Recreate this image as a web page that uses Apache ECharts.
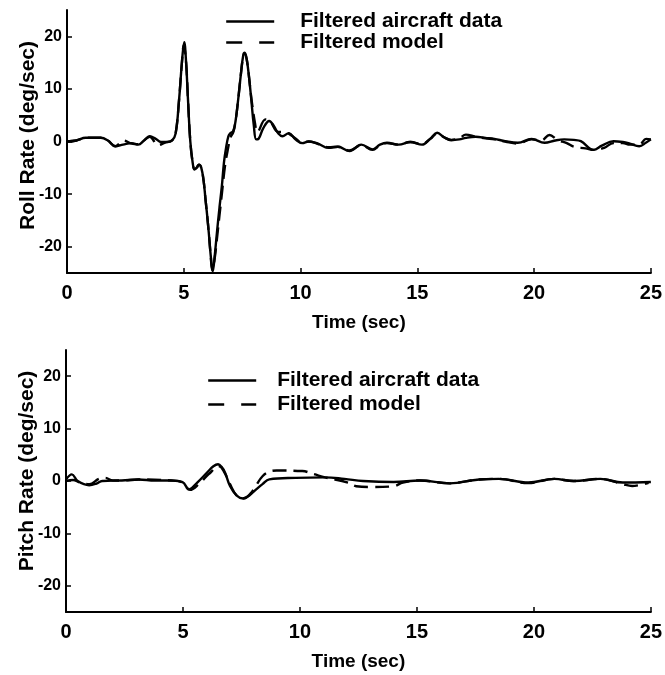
<!DOCTYPE html>
<html>
<head>
<meta charset="utf-8">
<script src="https://cdn.jsdelivr.net/npm/echarts@6/dist/echarts.min.js"></script>
<style>
html,body{margin:0;padding:0;background:#fff;}
#chart{width:665px;height:675px;}
</style>
</head>
<body>
<div id="chart"></div>
<script>
// ---- Data (time in sec, rate in deg/sec) ----
var rollTime = [0,0.4,0.8,1.45,1.75,2.07,2.4,2.77,3.05,3.3,3.54,3.8,4.03,4.3,4.5,4.65,4.8,4.92,5.02,5.1,5.18,5.28,5.38,5.46,5.55,5.65,5.75,5.85,5.93,6.0,6.07,6.15,6.24,6.33,6.42,6.53,6.63,6.72,6.8,6.91,7.0,7.12,7.22,7.33,7.45,7.55,7.61,7.7,7.8,7.89,8.0,8.1,8.2,8.4,8.66,8.85,9.05,9.22,9.5,9.78,10.07,10.35,10.7,11.2,11.6,12.1,12.6,13.08,13.4,13.7,14.2,14.7,15.2,15.55,15.85,16.15,16.45,16.8,17.08,17.5,17.92,18.3,18.76,19.3,19.89,20.45,20.9,21.29,21.7,22.0,22.55,22.9,23.4,23.8,24.1,24.5,24.8,25.0];
var rollAircraft = [0,0.2,0.7,0.7,0.2,-0.9,-0.6,-0.3,-0.6,0.2,1.0,0.5,-0.1,-0.1,0.2,1.5,8,15,18.9,15,8,0,-4,-5.3,-5.0,-4.4,-5.0,-7.5,-11,-14,-17.3,-21.5,-24.7,-21.5,-17.3,-12.5,-8.5,-4,-1.5,1.0,1.6,2.0,4,8,13,16.5,16.9,15.5,12,8,3,0.4,0.5,2.5,3.9,3.0,1.5,1.0,1.6,0.4,-0.3,0.0,-0.3,-1.2,-1.0,-1.8,-0.6,-1.5,-0.6,-0.25,-0.6,-0.1,-0.6,0.5,1.65,0.8,0.25,0.4,0.7,0.9,0.7,0.5,0.06,-0.25,0.5,-0.25,0.2,0.4,0.3,0.06,-1.6,-0.8,0.06,-0.1,-0.4,-0.9,-0.2,0.4];

var rollModelTime = [0,0.4,0.8,1.45,1.75,2.07,2.42,2.77,3.05,3.3,3.54,3.9,4.2,4.5,4.65,4.8,4.92,5.0,5.1,5.18,5.28,5.38,5.46,5.55,5.65,5.75,5.85,5.93,6.0,6.07,6.15,6.22,6.33,6.42,6.53,6.63,6.77,6.9,7.0,7.12,7.22,7.33,7.45,7.55,7.61,7.7,7.8,7.9,8.05,8.15,8.5,8.7,9.05,9.3,9.5,9.8,10.07,10.35,10.7,11.2,11.6,12.1,12.6,13.08,13.4,13.7,14.2,14.7,15.2,15.55,15.85,16.15,16.45,16.8,17.08,17.5,17.92,18.3,18.76,19.3,19.89,20.3,20.66,21.0,21.4,21.7,22.2,22.55,23.0,23.4,23.8,24.1,24.5,24.8,25.0];
var rollModel = [0,0.2,0.7,0.7,0.2,-0.9,0.2,-0.4,-0.5,0.2,0.9,-0.7,-0.2,0.2,1.5,8,15,18.3,15,8,0,-4,-5.3,-5.0,-4.4,-5.0,-7.5,-11,-14,-17.3,-21.5,-24.5,-22,-18.5,-14,-10,-4.5,-1.2,0.8,1.8,4,8,13,16.4,16.7,15.5,12,8,3.5,1.8,4.2,3.8,1.8,1.8,1.5,0.5,-0.2,0.0,-0.4,-1.1,-1.0,-1.7,-0.7,-1.6,-0.7,-0.3,-0.6,-0.1,-0.5,0.5,1.5,0.8,0.3,0.6,1.3,0.9,0.6,0.4,0.0,-0.4,0.4,0.2,1.25,0.3,-0.3,-1.0,-1.3,-1.6,-1.2,-0.3,-0.3,-0.6,-0.6,0.5,0.4];

var pitchTime = [0,0.25,0.5,0.99,1.3,1.55,2.39,3.1,3.8,4.49,4.98,5.26,5.61,6.03,6.3,6.5,6.65,6.8,7.01,7.3,7.57,7.85,8.13,8.4,8.69,9.81,11.07,11.9,12.7,14.0,15.13,16.4,17.66,18.5,19.76,20.87,21.7,22.84,23.8,25.0];
var pitchAircraft = [0.3,1.27,0,-0.8,-0.5,0,0.1,0.3,0.1,0.1,-0.2,-1.6,-0.3,1.6,2.8,3.2,2.7,1.6,-0.95,-2.8,-3.35,-2.7,-1.6,-0.6,0.3,0.6,0.7,0.4,0,-0.2,0.1,-0.45,0.3,0.4,-0.3,0.4,0,0.4,-0.3,-0.2];

var pitchModelTime = [0,0.3,0.6,1.0,1.4,1.68,2.0,2.39,3.1,4.49,4.98,5.3,5.7,6.1,6.55,6.75,7.0,7.3,7.6,7.9,8.1,8.4,8.7,9.0,10.1,10.6,11.07,12.05,12.4,13.03,14.0,14.4,15.13,16.4,17.66,18.5,19.76,20.87,21.7,22.84,23.8,24.2,24.9];
var pitchModel = [0.0,0.2,-0.3,-0.6,0.4,0.6,0.1,0.1,0.3,0.1,-0.3,-1.7,-0.5,1.3,2.8,1.8,-0.5,-2.8,-3.3,-2.3,-1.0,0.9,1.8,2.0,1.9,1.3,0.7,-0.3,-1.0,-1.15,-1.0,-0.3,0.1,-0.45,0.3,0.4,-0.4,0.4,0,0.4,-0.6,-0.95,-0.35];

var xTickValues = [0,5,10,15,20,25];
var yTickValues = [-20,-10,0,10,20];
var seriesNames = ['Filtered aircraft data','Filtered model'];
var rollAxisName = 'Roll Rate (deg/sec)';
var pitchAxisName = 'Pitch Rate (deg/sec)';
var timeAxisName = 'Time (sec)';

function zip(a,b){ var o=[]; for(var i=0;i<a.length;i++){ o.push([a[i],b[i]]); } return o; }

var FONT = 'Liberation Sans, Arial, sans-serif';

function xAxisCfg(idx){
  return {
    gridIndex: idx, type:'value', min:0, max:25, interval:5,
    axisLine:{show:true, onZero:false, lineStyle:{color:'#000', width:2}},
    axisTick:{show:true, inside:true, length:5, customValues:xTickValues, lineStyle:{color:'#000', width:1.5}},
    axisLabel:{customValues:xTickValues, margin:10, color:'#000', fontFamily:FONT, fontWeight:'bold', fontSize:20},
    splitLine:{show:false},
    name: timeAxisName, nameLocation:'middle', nameGap:40,
    nameTextStyle:{color:'#000', fontFamily:FONT, fontWeight:'bold', fontSize:19}
  };
}
function yAxisCfg(idx, name, shift){
  return {
    gridIndex: idx, type:'value', min:-25, max:25,
    axisLine:{show:true, onZero:false, lineStyle:{color:'#000', width:2}},
    axisTick:{show:true, inside:true, length:5, customValues:yTickValues, lineStyle:{color:'#000', width:1.5}},
    axisLabel:{customValues:yTickValues, margin:5, color:'#000', fontFamily:FONT, fontWeight:'bold', fontSize:16},
    splitLine:{show:false},
    name: name, nameLocation:'middle', nameGap:28, nameMoveOverlap:false,
    nameTextStyle:{color:'#000', fontFamily:FONT, fontWeight:'bold', fontSize:21, padding:[0,0,0,shift]}
  };
}
function lineSeries(name, xi, data, dashed){
  return {
    name:name, type:'line', xAxisIndex:xi, yAxisIndex:xi, data:data,
    showSymbol:false, symbol:'none', smooth:0.4, animation:false,
    lineStyle:{color:'#000', width:2.4, type: dashed ? [14,7] : 'solid'},
    itemStyle:{color:'#000'}
  };
}
function legendCfg(left, top, gap, pad){
  return {
    orient:'vertical', left:left, top:top, itemWidth:48, itemHeight:14, itemGap:gap,
    selectedMode:false,
    itemStyle:{color:'rgba(0,0,0,0)', borderColor:'rgba(0,0,0,0)', borderWidth:0},
    lineStyle:{color:'#000', width:2.4},
    data:[
      {name:seriesNames[0]},
      {name:seriesNames[1], lineStyle:{type:[16,17]}}
    ],
    textStyle:{color:'#000', fontFamily:FONT, fontWeight:'bold', fontSize:21, padding:[0,0,0,pad]}
  };
}

var chart = echarts.init(document.getElementById('chart'), null, {renderer:'canvas'});
chart.setOption({
  backgroundColor:'#fff',
  animation:false,
  grid:[
    {left:67, right:4, top:10, height:263},
    {left:66, right:4, top:350, height:262}
  ],
  xAxis:[xAxisCfg(0), xAxisCfg(1)],
  yAxis:[yAxisCfg(0, rollAxisName, 12), yAxisCfg(1, pitchAxisName, 20)],
  legend:[legendCfg(220, 6, 0, 21), legendCfg(202, 365, 3, 16)],
  series:[
    lineSeries(seriesNames[1], 0, zip(rollModelTime, rollModel), true),
    lineSeries(seriesNames[0], 0, zip(rollTime, rollAircraft), false),
    lineSeries(seriesNames[1], 1, zip(pitchModelTime, pitchModel), true),
    lineSeries(seriesNames[0], 1, zip(pitchTime, pitchAircraft), false)
  ]
});
</script>
</body>
</html>
